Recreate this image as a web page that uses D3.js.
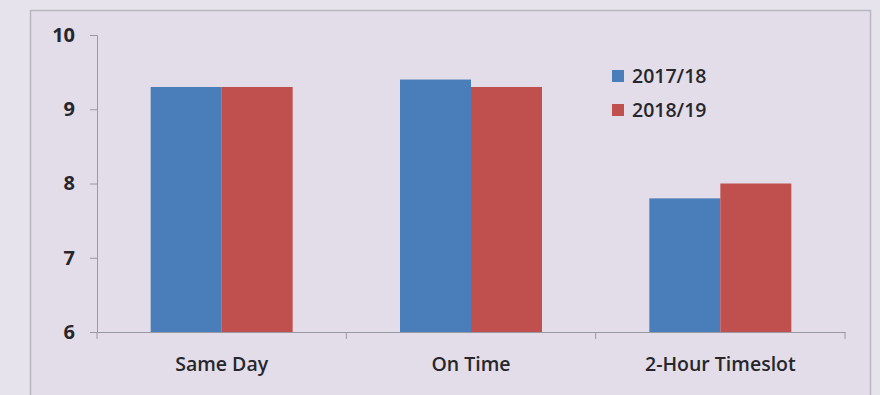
<!DOCTYPE html>
<html>
<head>
<meta charset="utf-8">
<script src="https://cdn.jsdelivr.net/npm/d3@7"></script>
<style>
  body { margin: 0; background: #e6e3ec; }
  svg { display: block; }
</style>
</head>
<body>
<div id="chart"></div>
<script>
// --- Datos ---
const categories = ["Same Day", "On Time", "2-Hour Timeslot"];
const seriesNames = ["2017/18", "2018/19"];
const values2017 = [9.3, 9.4, 7.8];
const values2018 = [9.3, 9.3, 8.0];
const yTicks = [6, 7, 8, 9, 10];
const colors = ["#4a7ebb", "#c0504d"];

const width = 880, height = 395;
const margin = { top: 35, right: 35, bottom: 63, left: 97 };
const font = "'Open Sans', sans-serif";
const textColor = "#26262c";

const svg = d3.select("#chart").append("svg")
    .attr("width", width)
    .attr("height", height);

// --- Marco del gráfico ---
svg.append("rect")
    .attr("x", 30.5).attr("y", 10.5)
    .attr("width", 840).attr("height", 400)
    .attr("fill", "#e2dde8")
    .attr("stroke", "#b9b6c0")
    .attr("stroke-width", 1.5);

// --- Escalas ---
const x = d3.scaleBand()
    .domain(categories)
    .range([margin.left, width - margin.right]);

const xInner = d3.scaleBand()
    .domain(seriesNames)
    .range([0, 142])
    .padding(0);

const y = d3.scaleLinear()
    .domain([6, 10])
    .range([height - margin.bottom, margin.top]);

// --- Barras ---
const rows = categories.map((c, i) => ({
    cat: c,
    vals: [values2017[i], values2018[i]]
}));

const g = svg.append("g");
g.selectAll("g.cat")
    .data(rows)
    .enter()
    .append("g")
    .attr("class", "cat")
    .attr("transform", d => `translate(${x(d.cat) + x.bandwidth() / 2 - 71},0)`)
    .selectAll("rect")
    .data(d => d.vals.map((v, j) => ({ v, j })))
    .enter()
    .append("rect")
    .attr("x", d => xInner(seriesNames[d.j]))
    .attr("width", xInner.bandwidth())
    .attr("y", d => y(d.v))
    .attr("height", d => y(6) - y(d.v))
    .attr("fill", d => colors[d.j]);

// --- Ejes ---
const yAxis = svg.append("g")
    .attr("transform", `translate(${margin.left},0)`)
    .call(d3.axisLeft(y).tickValues(yTicks).tickSize(7).tickPadding(15).tickFormat(d3.format("d")));
yAxis.select(".domain").attr("stroke", "#9a98a0");
yAxis.selectAll(".tick line").attr("stroke", "#9a98a0");
yAxis.selectAll("text")
    .attr("font-family", font)
    .attr("font-weight", "bold")
    .attr("font-size", 20)
    .attr("fill", textColor);

const xAxis = svg.append("g")
    .attr("transform", `translate(0,${y(6)})`)
    .call(d3.axisBottom(x).tickSize(0).tickPadding(25));
xAxis.select(".domain").attr("stroke", "#9a98a0");
xAxis.selectAll("text")
    .attr("font-family", font)
    .attr("font-weight", 600)
    .attr("font-size", 19.5)
    .attr("fill", textColor);

// marcas entre categorías
const bounds = [margin.left, ...categories.map(c => x(c) + x.bandwidth())];
svg.append("g").selectAll("line")
    .data(bounds)
    .enter()
    .append("line")
    .attr("x1", d => d).attr("x2", d => d)
    .attr("y1", y(6)).attr("y2", y(6) + 7)
    .attr("stroke", "#9a98a0");

// --- Leyenda ---
const legend = svg.append("g").attr("transform", "translate(612,76)");
seriesNames.forEach((s, i) => {
    const row = legend.append("g").attr("transform", `translate(0,${i * 34})`);
    row.append("rect")
        .attr("x", 0).attr("y", -6)
        .attr("width", 12).attr("height", 12)
        .attr("fill", colors[i]);
    row.append("text")
        .attr("x", 20).attr("y", 0)
        .attr("dy", "0.35em")
        .attr("font-family", font)
        .attr("font-weight", 600)
        .attr("font-size", 19.5)
        .attr("fill", textColor)
        .text(s);
});
</script>
</body>
</html>
